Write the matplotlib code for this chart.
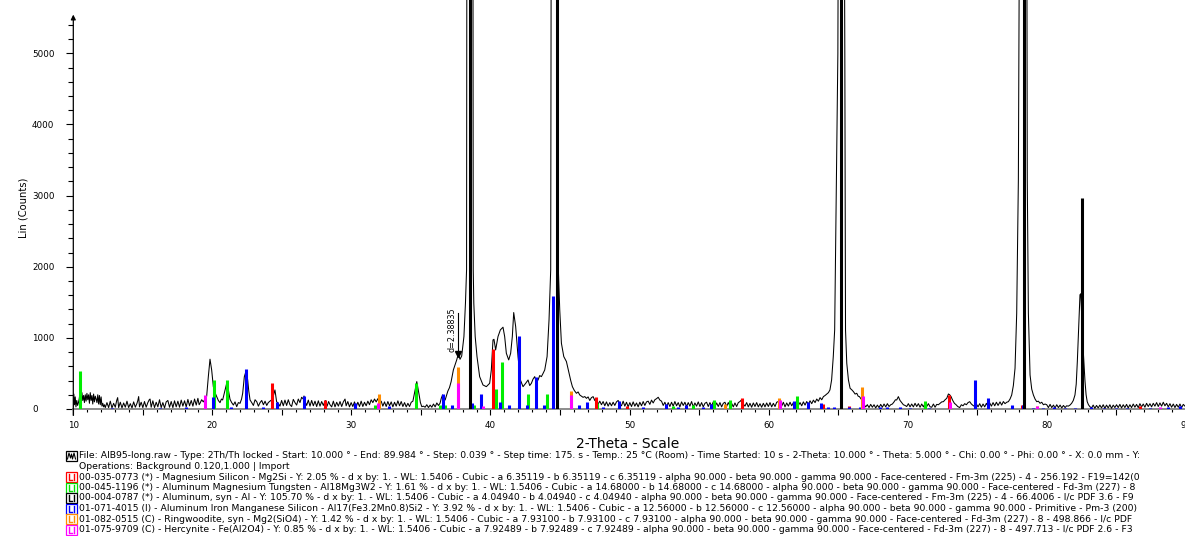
import matplotlib
matplotlib.use("Agg")
import matplotlib.pyplot as plt
from matplotlib.patches import Rectangle
from matplotlib.lines import Line2D

plt.rcParams['font.family'] = ['DejaVu Sans']

# ---------------- scan (2-theta, counts) ----------------
scan_10_24 = [
    (10.00, 40), (10.04, 210), (10.09, 60), (10.14, 170), (10.19, 30), (10.25, 120), (10.31, 50), (10.37, 90), (10.43, 150), (10.50, 260),
    (10.56, 180), (10.62, 230), (10.68, 120), (10.74, 190), (10.80, 90), (10.86, 200), (10.92, 110), (10.98, 220), (11.04, 130), (11.10, 200),
    (11.16, 80), (11.22, 230), (11.28, 120), (11.34, 190), (11.40, 70), (11.46, 210), (11.52, 100), (11.58, 180), (11.64, 140), (11.70, 90),
    (11.76, 200), (11.82, 70), (11.88, 190), (11.94, 60), (12.00, 170), (12.06, 40), (12.12, 80), (12.18, 30), (12.24, 60), (12.30, 20),
    (12.42, 90), (12.54, 20), (12.66, 110), (12.78, 15), (12.90, 80), (13.02, 25), (13.12, 120), (13.19, 160), (13.26, 20), (13.38, 95),
    (13.50, 15), (13.62, 85), (13.74, 25), (13.86, 110), (13.98, 20), (14.10, 75), (14.22, 15), (14.34, 100), (14.46, 25), (14.58, 80),
    (14.64, 120), (14.70, 175), (14.76, 30), (14.88, 95), (15.00, 20), (15.12, 105), (15.24, 25), (15.36, 90), (15.46, 130), (15.52, 140),
    (15.60, 25), (15.72, 115), (15.84, 20), (15.96, 95), (16.08, 30), (16.20, 130), (16.32, 20), (16.44, 90), (16.56, 15), (16.68, 100),
    (16.80, 120), (16.92, 25), (17.04, 105), (17.16, 20), (17.28, 115), (17.40, 30), (17.52, 110), (17.64, 25), (17.76, 125), (17.88, 40),
    (18.00, 115), (18.12, 30), (18.24, 135), (18.36, 45), (18.48, 120), (18.60, 40), (18.72, 140), (18.84, 55), (18.96, 150), (19.05, 60),
    (19.11, 80), (19.23, 130), (19.35, 100), (19.47, 140), (19.59, 180), (19.71, 455), (19.83, 700), (19.95, 549), (20.07, 314), (20.19, 230),
    (20.31, 174), (20.43, 120), (20.55, 89), (20.65, 140), (20.74, 127), (20.83, 200), (20.91, 268), (21.03, 361), (21.15, 268), (21.27, 136),
    (21.39, 90), (21.51, 56), (21.63, 100), (21.75, 33), (21.87, 90), (21.99, 80), (22.10, 140), (22.18, 221), (22.30, 455), (22.42, 530),
    (22.54, 408), (22.62, 250), (22.71, 127), (22.83, 90), (22.95, 50), (23.07, 130), (23.19, 103), (23.31, 40), (23.43, 90), (23.55, 120),
    (23.67, 60), (23.79, 110), (23.91, 50),
]
scan_24_36 = [
    (24.02, 90), (24.14, 110), (24.26, 127), (24.38, 180), (24.50, 268), (24.62, 103), (24.74, 80),
    (24.86, 40), (24.98, 120), (25.10, 45), (25.22, 125), (25.34, 50), (25.46, 130), (25.58, 60), (25.70, 35), (25.82, 135), (25.94, 90),
    (26.06, 55), (26.18, 140), (26.30, 90), (26.42, 165), (26.54, 140), (26.59, 183), (26.66, 110), (26.78, 50), (26.90, 125), (27.02, 40),
    (27.14, 120), (27.26, 45), (27.38, 110), (27.50, 35), (27.62, 115), (27.74, 40), (27.86, 105), (27.98, 50), (28.10, 110), (28.15, 117),
    (28.25, 40), (28.36, 105), (28.46, 60), (28.58, 30), (28.70, 110), (28.82, 30), (28.94, 95), (29.06, 40), (29.18, 105), (29.30, 35),
    (29.42, 100), (29.54, 140), (29.62, 45), (29.74, 105), (29.86, 30), (29.98, 90), (30.10, 35), (30.22, 100), (30.34, 30), (30.46, 95),
    (30.58, 35), (30.70, 110), (30.82, 35), (30.94, 95), (31.06, 45), (31.18, 110), (31.30, 60), (31.42, 130), (31.54, 90), (31.66, 140),
    (31.78, 100), (31.90, 145), (32.02, 80), (32.14, 110), (32.26, 40), (32.38, 100), (32.50, 35), (32.62, 105), (32.74, 45), (32.86, 100),
    (32.98, 30), (33.10, 95), (33.22, 40), (33.34, 115), (33.46, 45), (33.58, 105), (33.70, 35), (33.82, 90), (33.94, 30), (34.06, 80),
    (34.18, 35), (34.30, 95), (34.42, 110), (34.53, 221), (34.62, 320), (34.70, 385), (34.78, 300), (34.87, 197), (34.96, 90), (35.06, 33),
    (35.18, 40), (35.30, 25), (35.42, 60), (35.54, 20), (35.66, 55), (35.78, 25), (35.90, 70), (36.02, 30), (36.14, 85), (36.26, 50),
]
scan_36_49 = [
    (36.37, 80), (36.46, 150), (36.55, 197), (36.61, 120), (36.74, 127), (36.85, 197), (36.93, 250), (37.05, 300), (37.17, 385), (37.33, 549),
    (37.45, 620), (37.57, 690), (37.69, 774), (37.81, 699), (37.93, 746), (38.09, 1018), (38.20, 1488), (38.28, 1957), (38.30, 6500), (38.52, 25000),
    (38.74, 6500), (38.76, 1957), (38.80, 1488), (38.90, 1018), (39.03, 737), (39.22, 455), (39.46, 338), (39.70, 314), (39.94, 361), (40.06, 549),
    (40.18, 971), (40.25, 980), (40.37, 830), (40.54, 1018), (40.71, 1112), (40.90, 1150), (41.02, 1018), (41.14, 783), (41.31, 690), (41.45, 783),
    (41.57, 1018), (41.67, 1356), (41.81, 1160), (41.98, 737), (42.15, 408), (42.34, 314), (42.53, 361), (42.70, 408), (42.82, 330), (42.94, 361),
    (43.06, 420), (43.18, 455), (43.30, 380), (43.42, 408), (43.54, 470), (43.66, 455), (43.78, 500), (43.90, 549), (44.07, 737), (44.21, 1253),
    (44.33, 1957), (44.36, 6000), (44.62, 25000), (44.86, 6000), (44.88, 1957), (44.98, 1394), (45.10, 924), (45.27, 737), (45.46, 667), (45.65, 502),
    (45.77, 400), (45.89, 314), (46.03, 260), (46.18, 221), (46.30, 240), (46.42, 197), (46.54, 180), (46.66, 164), (46.78, 175), (46.90, 150),
    (47.02, 170), (47.14, 120), (47.26, 160), (47.38, 174), (47.50, 120), (47.62, 103), (47.74, 70), (47.86, 110), (47.98, 60), (48.10, 105),
    (48.22, 45), (48.34, 100), (48.46, 40), (48.58, 90), (48.70, 45), (48.82, 95), (48.94, 50), (49.06, 100), (49.18, 120), (49.30, 70),
]
scan_49_62 = [
    (49.42, 45), (49.54, 110), (49.66, 40), (49.78, 95), (49.90, 30), (50.02, 90), (50.14, 35), (50.26, 100), (50.38, 40), (50.50, 85),
    (50.62, 30), (50.74, 95), (50.86, 45), (50.98, 105), (51.10, 50), (51.22, 100), (51.34, 110), (51.46, 65), (51.58, 125), (51.70, 85),
    (51.82, 130), (51.94, 145), (52.06, 165), (52.18, 125), (52.30, 110), (52.42, 50), (52.54, 95), (52.66, 35), (52.78, 90), (52.90, 35),
    (53.02, 95), (53.14, 40), (53.26, 105), (53.38, 45), (53.50, 90), (53.62, 30), (53.74, 100), (53.86, 50), (53.98, 95), (54.10, 35),
    (54.22, 90), (54.34, 40), (54.46, 105), (54.58, 30), (54.70, 85), (54.82, 40), (54.94, 100), (55.06, 35), (55.18, 90), (55.30, 30),
    (55.42, 80), (55.54, 95), (55.66, 35), (55.78, 90), (55.90, 40), (56.02, 100), (56.14, 30), (56.26, 85), (56.38, 35), (56.50, 90),
    (56.62, 30), (56.74, 80), (56.86, 95), (56.98, 35), (57.10, 90), (57.22, 40), (57.34, 80), (57.46, 30), (57.58, 85), (57.70, 35),
    (57.82, 90), (57.94, 105), (58.06, 130), (58.18, 70), (58.30, 40), (58.42, 90), (58.54, 30), (58.66, 80), (58.78, 25), (58.90, 85),
    (59.02, 35), (59.14, 90), (59.26, 30), (59.38, 75), (59.50, 25), (59.62, 80), (59.74, 30), (59.86, 85), (59.98, 35), (60.10, 90),
    (60.22, 30), (60.34, 80), (60.46, 35), (60.58, 95), (60.70, 105), (60.82, 60), (60.94, 40), (61.06, 95), (61.18, 30), (61.30, 85),
    (61.42, 40), (61.54, 95), (61.66, 45), (61.78, 90), (61.90, 40), (62.02, 100), (62.14, 50),
]
scan_62_77 = [
    (62.26, 90), (62.38, 45), (62.50, 100),
    (62.62, 55), (62.74, 105), (62.86, 65), (62.98, 115), (63.10, 75), (63.22, 125), (63.34, 90), (63.46, 140), (63.58, 110), (63.70, 160),
    (63.82, 130), (63.94, 174), (64.06, 190), (64.18, 211), (64.30, 230), (64.41, 268), (64.53, 408), (64.65, 737), (64.75, 1112), (64.98, 5000),
    (65.22, 20000), (65.48, 5000), (65.53, 1112), (65.62, 643), (65.74, 408), (65.86, 291), (65.98, 270), (66.10, 244), (66.22, 210), (66.34, 221),
    (66.44, 180), (66.53, 174), (66.62, 150), (66.70, 127), (66.80, 80), (66.98, 30), (67.10, 60), (67.22, 20), (67.34, 65), (67.46, 25),
    (67.58, 60), (67.70, 15), (67.82, 55), (67.94, 20), (68.06, 65), (68.18, 25), (68.30, 70), (68.42, 30), (68.54, 75), (68.66, 35),
    (68.78, 60), (68.90, 70), (69.02, 100), (69.12, 130), (69.21, 127), (69.33, 174), (69.45, 120), (69.57, 90), (69.69, 60), (69.81, 50),
    (69.93, 35), (70.05, 75), (70.17, 30), (70.29, 70), (70.41, 30), (70.53, 80), (70.65, 35), (70.77, 75), (70.89, 25), (71.01, 70),
    (71.13, 30), (71.25, 80), (71.37, 35), (71.49, 75), (71.61, 30), (71.73, 25), (71.85, 70), (71.97, 25), (72.09, 65), (72.21, 60),
    (72.33, 80), (72.45, 100), (72.57, 103), (72.69, 130), (72.81, 150), (72.93, 211), (73.02, 200), (73.12, 174), (73.24, 120), (73.36, 80),
    (73.48, 60), (73.60, 35), (73.74, 20), (73.86, 60), (73.98, 45), (74.10, 75), (74.22, 60), (74.34, 90), (74.46, 103), (74.58, 70),
    (74.70, 50), (74.82, 35), (74.94, 70), (75.06, 30), (75.18, 75), (75.30, 25), (75.42, 70), (75.54, 30), (75.66, 80), (75.78, 35),
    (75.90, 85), (76.02, 40), (76.14, 90), (76.26, 45), (76.38, 95), (76.50, 50), (76.64, 100), (76.76, 55), (76.88, 105),
]
scan_77_90 = [
    (77.00, 75), (77.12, 95), (77.24, 103), (77.36, 140), (77.48, 197), (77.60, 330), (77.72, 573), (77.84, 1347), (77.96, 3224), (78.06, 8000),
    (78.33, 22000), (78.56, 8000), (78.60, 3224), (78.68, 1347), (78.80, 479), (78.92, 280), (79.04, 197), (79.16, 140), (79.28, 103), (79.40, 110),
    (79.52, 80), (79.64, 95), (79.76, 60), (79.88, 70), (80.00, 60), (80.12, 20), (80.24, 65), (80.36, 20), (80.48, 55), (80.60, 15),
    (80.72, 60), (80.84, 20), (80.96, 55), (81.08, 15), (81.20, 50), (81.32, 20), (81.43, 45), (81.55, 40), (81.67, 55), (81.79, 80),
    (81.91, 120), (82.03, 197), (82.12, 350), (82.20, 667), (82.30, 1150), (82.39, 1606), (82.45, 1620), (82.51, 1330), (82.63, 800), (82.75, 394),
    (82.83, 200), (82.91, 103), (83.00, 60), (83.10, 33), (83.22, 15), (83.34, 55), (83.46, 10), (83.58, 50), (83.70, 15), (83.82, 55),
    (83.94, 15), (84.06, 60), (84.18, 10), (84.30, 55), (84.42, 15), (84.54, 60), (84.66, 10), (84.78, 55), (84.90, 20), (85.02, 60),
    (85.14, 20), (85.26, 65), (85.38, 15), (85.50, 60), (85.62, 20), (85.74, 65), (85.86, 15), (85.98, 60), (86.10, 20), (86.22, 70),
    (86.34, 25), (86.46, 65), (86.58, 20), (86.70, 75), (86.82, 30), (86.94, 70), (87.06, 25), (87.18, 80), (87.30, 35), (87.42, 75),
    (87.54, 30), (87.66, 80), (87.78, 40), (87.90, 90), (88.02, 35), (88.14, 85), (88.26, 40), (88.38, 95), (88.50, 45), (88.62, 80),
    (88.74, 30), (88.86, 75), (88.98, 25), (89.10, 70), (89.22, 20), (89.34, 65), (89.46, 25), (89.58, 70), (89.70, 20), (89.82, 65),
    (89.94, 40),
]

# ---------------- reference patterns (stick positions, heights) ----------------
al_pos = [38.55, 44.76, 65.18, 78.35, 82.52]
al_h = [40000, 19000, 9000, 9500, 2970]

mg2si_pos = [24.31, 28.10, 40.20, 47.57, 49.79, 58.12, 63.89, 65.78, 72.98, 78.20, 86.71]
mg2si_h = [361, 127, 840, 174, 42, 150, 70, 40, 197, 56, 47]

almgw_pos = [10.48, 20.12, 21.03, 31.70, 34.62, 36.37, 36.74, 38.84, 40.37, 40.82,
             42.71, 44.08, 47.64, 53.10, 54.54, 56.08, 57.23, 62.02, 71.23]
almgw_h = [535, 408, 408, 56, 361, 56, 56, 56, 282, 667,
           211, 211, 80, 40, 50, 127, 127, 183, 117]

alfe_pos = [12.80, 16.20, 18.10, 20.07, 21.34, 22.42, 23.62, 24.62, 26.61, 30.25,
            32.70, 36.55, 37.26, 38.67, 39.34, 40.68, 41.32, 42.02, 42.59, 43.26,
            43.86, 44.51, 46.37, 46.92, 48.12, 49.24, 50.99, 52.62, 53.51, 54.06,
            55.26, 55.84, 61.86, 62.81, 63.75, 64.30, 64.73, 65.75, 66.55, 68.00,
            68.50, 69.43, 70.20, 71.50, 74.85, 75.76, 77.53, 78.32, 79.00, 79.70,
            80.50, 81.30, 82.00, 83.20, 84.10, 85.00, 85.80, 87.40, 88.70, 89.60]
alfe_h = [20, 20, 25, 164, 33, 559, 30, 103, 188, 80,
          40, 211, 56, 80, 211, 103, 56, 1032, 56, 446,
          56, 1590, 56, 103, 35, 113, 30, 70, 30, 52,
          30, 70, 113, 98, 80, 25, 25, 25, 25, 25,
          25, 25, 20, 20, 408, 150, 56, 56, 20, 20,
          25, 20, 20, 25, 20, 20, 20, 20, 25, 40]

ringw_pos = [31.99, 37.69, 45.79, 56.87, 60.75, 66.71, 79.28]
ringw_h = [211, 587, 258, 70, 150, 305, 42]

hercy_pos = [19.45, 31.94, 37.69, 39.43, 45.79, 60.82, 66.79, 73.05, 79.28, 88.15]
hercy_h = [197, 80, 361, 42, 197, 127, 183, 103, 47, 30]

x_ticks = [10, 15, 20, 25, 30, 35, 40, 45, 50, 55, 60, 65, 70, 75, 80, 85, 90]
x_tick_labels = ['10', '', '20', '', '30', '', '40', '', '50', '', '60', '', '70', '', '80', '', '90']
y_ticks = [0, 1000, 2000, 3000, 4000, 5000]

marker_pos = 37.69
marker_text = "d=2.38835"

legend_lines = [
    ("File: AIB95-long.raw - Type: 2Th/Th locked - Start: 10.000 \u00b0 - End: 89.984 \u00b0 - Step: 0.039 \u00b0 - Step time: 175. s - Temp.: 25 \u00b0C (Room) - Time Started: 10 s - 2-Theta: 10.000 \u00b0 - Theta: 5.000 \u00b0 - Chi: 0.00 \u00b0 - Phi: 0.00 \u00b0 - X: 0.0 mm - Y:", 'scan'),
    ("Operations: Background 0.120,1.000 | Import", None),
    ("00-035-0773 (*) - Magnesium Silicon - Mg2Si - Y: 2.05 % - d x by: 1. - WL: 1.5406 - Cubic - a 6.35119 - b 6.35119 - c 6.35119 - alpha 90.000 - beta 90.000 - gamma 90.000 - Face-centered - Fm-3m (225) - 4 - 256.192 - F19=142(0", '#ff0000'),
    ("00-045-1196 (*) - Aluminum Magnesium Tungsten - Al18Mg3W2 - Y: 1.61 % - d x by: 1. - WL: 1.5406 - Cubic - a 14.68000 - b 14.68000 - c 14.68000 - alpha 90.000 - beta 90.000 - gamma 90.000 - Face-centered - Fd-3m (227) - 8", '#00e000'),
    ("00-004-0787 (*) - Aluminum, syn - Al - Y: 105.70 % - d x by: 1. - WL: 1.5406 - Cubic - a 4.04940 - b 4.04940 - c 4.04940 - alpha 90.000 - beta 90.000 - gamma 90.000 - Face-centered - Fm-3m (225) - 4 - 66.4006 - I/c PDF 3.6 - F9", '#000000'),
    ("01-071-4015 (I) - Aluminum Iron Manganese Silicon - Al17(Fe3.2Mn0.8)Si2 - Y: 3.92 % - d x by: 1. - WL: 1.5406 - Cubic - a 12.56000 - b 12.56000 - c 12.56000 - alpha 90.000 - beta 90.000 - gamma 90.000 - Primitive - Pm-3 (200)", '#0000ff'),
    ("01-082-0515 (C) - Ringwoodite, syn - Mg2(SiO4) - Y: 1.42 % - d x by: 1. - WL: 1.5406 - Cubic - a 7.93100 - b 7.93100 - c 7.93100 - alpha 90.000 - beta 90.000 - gamma 90.000 - Face-centered - Fd-3m (227) - 8 - 498.866 - I/c PDF", '#ff8c00'),
    ("01-075-9709 (C) - Hercynite - Fe(Al2O4) - Y: 0.85 % - d x by: 1. - WL: 1.5406 - Cubic - a 7.92489 - b 7.92489 - c 7.92489 - alpha 90.000 - beta 90.000 - gamma 90.000 - Face-centered - Fd-3m (227) - 8 - 497.713 - I/c PDF 2.6 - F3", '#ff00ff'),
]

# ---------------- figure ----------------
W, H = 1185, 536
fig = plt.figure(figsize=(W / 100, H / 100), dpi=100)
x0, x90 = 73.3, 1185.8
y_base = 409.0
px_per_1000 = 71.13
ax = fig.add_axes([x0 / W, 1 - y_base / H, (x90 - x0) / W, y_base / H])
ax.set_xlim(10, 90)
ax.set_ylim(0, y_base / px_per_1000 * 1000)

scan = scan_10_24 + scan_24_36 + scan_36_49 + scan_49_62 + scan_62_77 + scan_77_90
two_theta = [p[0] for p in scan]
counts = [p[1] for p in scan]
ax.plot(two_theta, counts, color='black', lw=0.75, zorder=3)

stick_lw = 2.2
ax.vlines(almgw_pos, 0, almgw_h, colors='#00ee00', lw=stick_lw, zorder=4)
ax.vlines(mg2si_pos, 0, mg2si_h, colors='#ff0000', lw=stick_lw, zorder=4)
ax.vlines(alfe_pos, 0, alfe_h, colors='#0000ff', lw=stick_lw, zorder=4)
ax.vlines(ringw_pos, 0, ringw_h, colors='#ff8c00', lw=stick_lw, zorder=4)
ax.vlines(hercy_pos, 0, hercy_h, colors='#ff00ff', lw=stick_lw, zorder=4)
ax.vlines(al_pos, 0, al_h, colors='#000000', lw=stick_lw, zorder=5)

# d-spacing marker
m_idx = two_theta.index(marker_pos)
m_y = counts[m_idx]
ax.plot([marker_pos, marker_pos], [m_y + 20, 1352], color='black', lw=0.8, zorder=6)
ax.plot([marker_pos], [m_y], marker='v', color='black', ms=4, zorder=6)
ax.text(37.25, 1110, marker_text, rotation=90, ha='center', va='center', fontsize=5.8)

# axes styling
for s in ['top', 'right', 'left']:
    ax.spines[s].set_visible(False)
ax.spines['bottom'].set_color('#8c8c8c')
ax.spines['bottom'].set_linewidth(1.4)
ax.spines['bottom'].set_zorder(2)

ax.set_xticks(x_ticks)
ax.set_xticklabels(x_tick_labels)
ax.set_xticks(list(range(10, 91)), minor=True)
ax.set_yticks(y_ticks)
ax.set_yticks(list(range(0, 5401, 200)), minor=True)
ax.tick_params(axis='x', which='major', direction='out', length=4.3, width=0.8, pad=4.5, labelsize=6.3, colors='black')
ax.tick_params(axis='x', which='minor', direction='out', length=2.3, width=0.8)
ax.tick_params(axis='y', which='major', direction='out', length=5.0, width=0.8, pad=24.7, labelsize=6.3)
ax.tick_params(axis='y', which='minor', direction='out', length=3.6, width=0.8)
for lab in ax.get_yticklabels():
    lab.set_ha('left')

# y axis line with arrow
ax.annotate('', xy=(10, 5545), xytext=(10, -90), xycoords='data',
            arrowprops=dict(arrowstyle='-|>', color='black', lw=0.9, mutation_scale=7,
                            shrinkA=0, shrinkB=0), annotation_clip=False, zorder=7)

fig.text(24 / W, 1 - 208 / H, "Lin (Counts)", rotation=90, ha='center', va='center', fontsize=7.2)
fig.text(628 / W, 1 - 444 / H, "2-Theta - Scale", ha='center', va='center', fontsize=10)

# legend block
leg_fs = 6.7
y_rows = [456, 466.5, 477, 487.5, 498, 508.5, 519, 529.5]
tr = fig.transFigure
for (txt, kind), yc in zip(legend_lines, y_rows):
    fig.text(79 / W, 1 - yc / H, txt, ha='left', va='center', fontsize=leg_fs)
    if kind is None:
        continue
    bx, by, bw, bh = 66, yc - 5, 11, 10
    col = 'black' if kind == 'scan' else kind
    fig.add_artist(Rectangle((bx / W, 1 - (by + bh) / H), bw / W, bh / H, transform=tr,
                             facecolor='white', edgecolor=col, lw=0.9))
    if kind == 'scan':
        xs = [67.5, 69, 70.5, 71.5, 72.5, 74, 75.5]
        ys = [yc + 3, yc - 3, yc + 2, yc - 2, yc + 3, yc - 3, yc + 3]
        fig.add_artist(Line2D([v / W for v in xs], [1 - v / H for v in ys], transform=tr, color='black', lw=0.8))
    else:
        fig.add_artist(Line2D([68.5 / W, 68.5 / W, 71.5 / W], [1 - (yc - 3) / H, 1 - (yc + 3) / H, 1 - (yc + 3) / H],
                              transform=tr, color=col, lw=1.0))
        fig.add_artist(Line2D([73.8 / W, 73.8 / W], [1 - (yc - 3) / H, 1 - (yc + 3) / H],
                              transform=tr, color=col, lw=1.0))

fig.savefig("out.png", dpi=100)
